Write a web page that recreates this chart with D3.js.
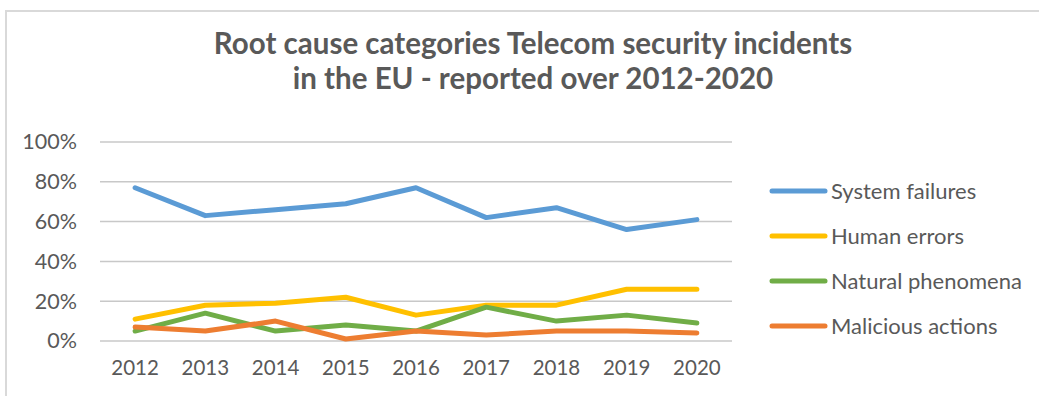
<!DOCTYPE html>
<html>
<head>
<meta charset="utf-8">
<script src="https://cdn.jsdelivr.net/npm/d3@7"></script>
<style>
  html, body { margin: 0; padding: 0; background: #fff; }
  svg { display: block; }
  text { font-family: Lato, "Open Sans", sans-serif; fill: #595959; }
</style>
</head>
<body>
<svg id="chart" width="1039" height="396"></svg>
<script>
// Share of reported incidents per root cause, by year
const years = ["2012", "2013", "2014", "2015", "2016", "2017", "2018", "2019", "2020"];
const seriesNames = ["System failures", "Human errors", "Natural phenomena", "Malicious actions"];
const systemFailures   = [77, 63, 66, 69, 77, 62, 67, 56, 61];
const humanErrors      = [11, 18, 19, 22, 13, 18, 18, 26, 26];
const naturalPhenomena = [5, 14, 5, 8, 5, 17, 10, 13, 9];
const maliciousActions = [7, 5, 10, 1, 5, 3, 5, 5, 4];
const seriesColors = ["#5B9BD5", "#FFC000", "#70AD47", "#ED7D31"];
const yTicks = [0, 20, 40, 60, 80, 100];
const titleLines = ["Root cause categories Telecom security incidents", "in the EU - reported over 2012-2020"];

const series = [systemFailures, humanErrors, naturalPhenomena, maliciousActions].map((vals, i) => ({
  name: seriesNames[i],
  color: seriesColors[i],
  values: vals
}));

const svg = d3.select("#chart");

// chart frame
svg.append("rect")
  .attr("x", 6).attr("y", 11)
  .attr("width", 1200).attr("height", 600)
  .attr("fill", "none")
  .attr("stroke", "#D9D9D9")
  .attr("stroke-width", 2);

// title
svg.append("text")
  .attr("text-anchor", "middle")
  .style("font-weight", "bold")
  .style("font-size", "29.5px")
  .selectAll("tspan")
  .data(titleLines)
  .join("tspan")
  .attr("x", 533)
  .attr("y", (d, i) => 54 + i * 35)
  .text(d => d);

const plot = { left: 100, right: 732, top: 142, bottom: 341 };

const x = d3.scaleBand().domain(years).range([plot.left, plot.right]);
const y = d3.scaleLinear().domain([0, 100]).range([plot.bottom, plot.top]);

// horizontal gridlines
svg.append("g")
  .selectAll("line")
  .data(yTicks)
  .join("line")
  .attr("x1", plot.left).attr("x2", plot.right)
  .attr("y1", d => y(d)).attr("y2", d => y(d))
  .attr("stroke", "#C8C8C8")
  .attr("stroke-width", 1.5);

// y axis labels
const yAxis = d3.axisLeft(y).tickValues(yTicks).tickFormat(d => d + "%").tickSize(0).tickPadding(23);
const gy = svg.append("g").attr("transform", `translate(${plot.left},0)`).call(yAxis);
gy.select(".domain").remove();
gy.selectAll("text").style("font-size", "21.5px").style("font-family", "Lato, sans-serif").attr("fill", "#595959");

// x axis labels
const xAxis = d3.axisBottom(x).tickSize(0).tickPadding(19);
const gx = svg.append("g").attr("transform", `translate(0,${plot.bottom})`).call(xAxis);
gx.select(".domain").remove();
gx.selectAll("text").style("font-size", "20.5px").style("font-family", "Lato, sans-serif").attr("fill", "#595959");

// series lines
const line = d3.line()
  .x((d, i) => x(years[i]) + x.bandwidth() / 2)
  .y(d => y(d));

svg.append("g")
  .selectAll("path")
  .data(series)
  .join("path")
  .attr("d", d => line(d.values))
  .attr("fill", "none")
  .attr("stroke", d => d.color)
  .attr("stroke-width", 5)
  .attr("stroke-linejoin", "round")
  .attr("stroke-linecap", "round");

// legend
const legend = svg.append("g")
  .selectAll("g")
  .data(series)
  .join("g")
  .attr("transform", (d, i) => `translate(0,${191 + i * 45})`);

legend.append("line")
  .attr("x1", 772).attr("x2", 825)
  .attr("y1", 0).attr("y2", 0)
  .attr("stroke", d => d.color)
  .attr("stroke-width", 5)
  .attr("stroke-linecap", "round");

legend.append("text")
  .attr("x", 831)
  .attr("y", 8)
  .style("font-size", "22px")
  .text(d => d.name);
</script>
</body>
</html>
